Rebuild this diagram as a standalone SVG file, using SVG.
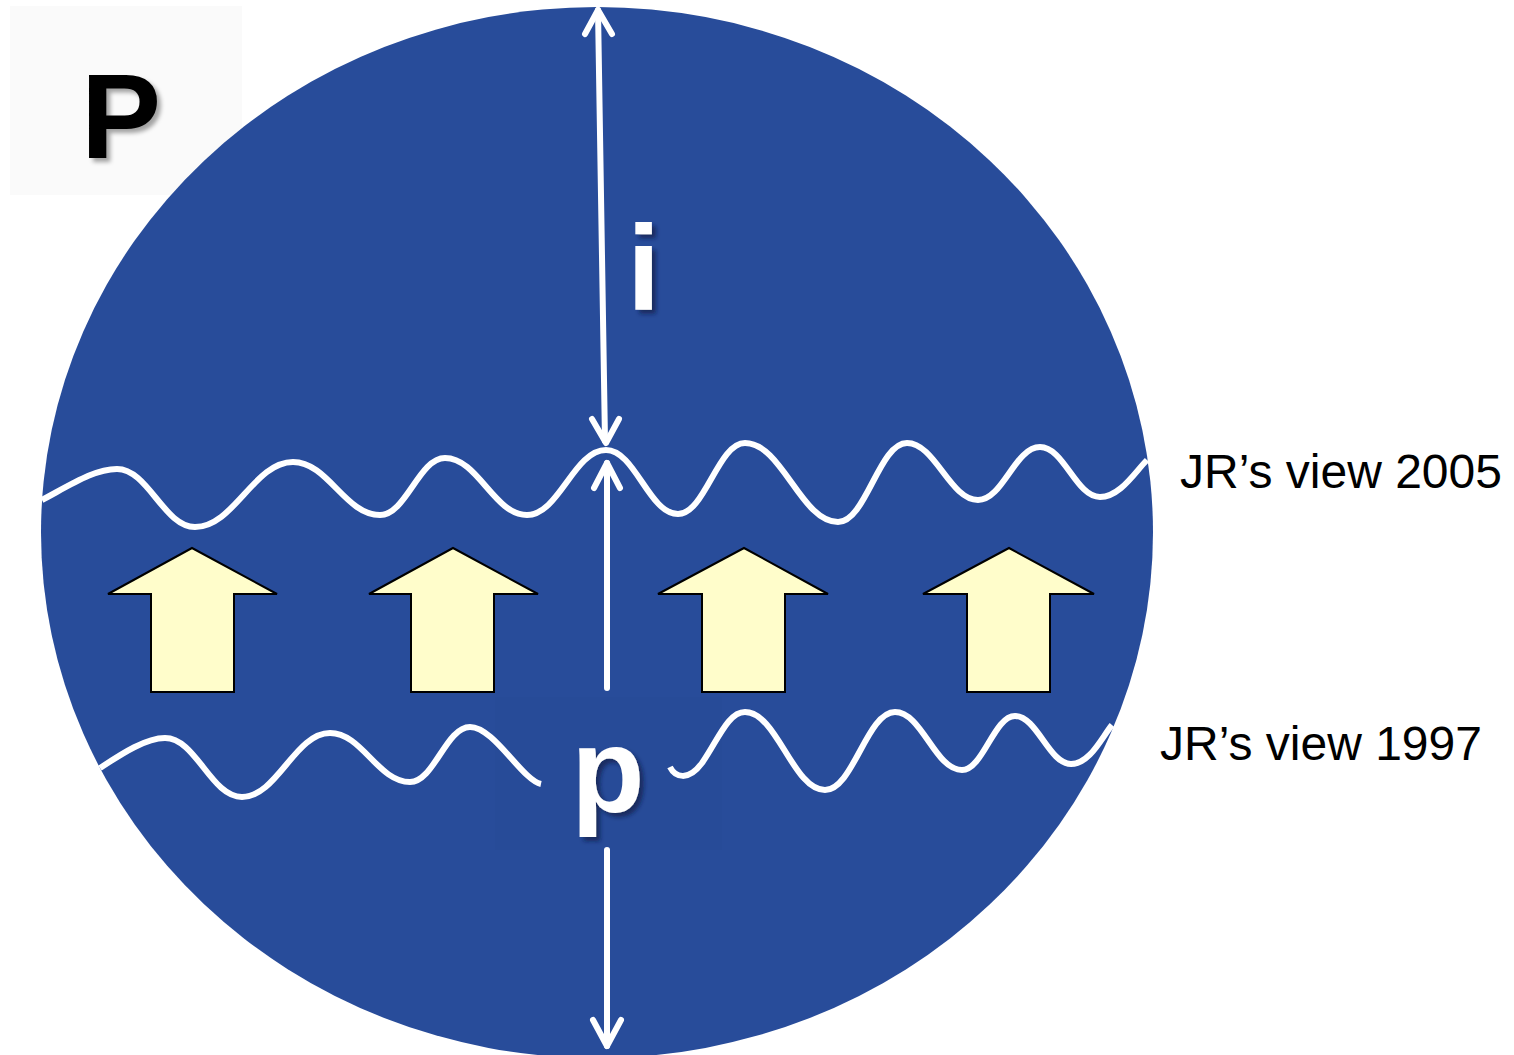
<svg xmlns="http://www.w3.org/2000/svg" width="1514" height="1055" viewBox="0 0 1514 1055">
<style>
.lbl{font-family:"Liberation Sans",Arial,sans-serif;font-weight:bold;font-size:120px}
.side{font-family:"Liberation Sans",Arial,sans-serif;font-size:48px;fill:#000}
.wave{fill:none;stroke:#fff;stroke-width:6;stroke-linecap:butt;stroke-linejoin:round}
.ln{fill:none;stroke:#fff;stroke-width:6;stroke-linecap:round;stroke-linejoin:round}
.blk{fill:#FFFDCB;stroke:#000;stroke-width:2;stroke-linejoin:miter}
</style>
<defs>
<filter id="shP" x="-20%" y="-20%" width="150%" height="150%">
<feDropShadow dx="4" dy="4" stdDeviation="2" flood-color="#000" flood-opacity="0.35"/>
</filter>
<filter id="shW" x="-30%" y="-20%" width="170%" height="150%">
<feDropShadow dx="4" dy="4" stdDeviation="2" flood-color="#0b1c44" flood-opacity="0.7"/>
</filter>
</defs>
<rect width="1514" height="1055" fill="#fff"/>
<g id="title-box">
<rect x="10" y="6" width="232" height="189" fill="#FAFAFA"/>
<text class="lbl" x="81" y="158" fill="#000" filter="url(#shP)">P</text>
</g>
<g id="sphere">
<ellipse cx="597" cy="532.5" rx="556" ry="525.5" fill="#284C9A"/>
<rect x="495" y="697" width="227" height="153" fill="#274B98"/>
</g>
<g id="blocks">
<polygon class="blk" points="192,548 277,594 234,594 234,692 151,692 151,594 108,594"/>
<polygon class="blk" points="453,548 538,594 494,594 494,692 411,692 411,594 369,594"/>
<polygon class="blk" points="744,548 828,594 785,594 785,692 702,692 702,594 658,594"/>
<polygon class="blk" points="1009,548 1094,594 1050,594 1050,692 967,692 967,594 923,594"/>
</g>
<g id="waves">
<path id="wave2005" class="wave" d="M42,500 C72,484 95,469 117,469 C148,469 164,527 195,527 C234,527 254,462 293,462 C328,462 345,515 380,515 C406,515 419,458 445,458 C478,458 494,515 527,515 C559,515 574,450 606,450 C635,450 649,514 678,514 C705,514 718,443 745,443 C782,443 801,522 838,522 C866,522 879,443 907,443 C935,443 950,500 978,500 C1003,500 1015,447 1040,447 C1064,447 1076,497 1100,497 C1120,497 1135,472 1147,460"/>
<path id="wave1997a" class="wave" d="M100,768 C120,755 145,738 165,738 C196,738 211,797 242,797 C277,797 295,733 330,733 C362,733 378,782 410,782 C434,782 446,727 470,727 C494,727 522,780 541,784"/>
<path id="wave1997b" class="wave" d="M670,767 C675,777 688,782 702,763 C718,740 728,712 745,712 C777,712 793,790 825,790 C853,790 867,712 895,712 C922,712 935,770 962,770 C983,770 994,716 1015,716 C1037,716 1049,764 1071,764 C1090,764 1102,737 1112,725"/>
</g>
<g id="connectors">
<path class="ln" d="M598,10 L605,441"/>
<path class="ln" d="M585,34 L598,10 L612,34"/>
<path class="ln" d="M592,419 L606,443 L619,419"/>
<path class="ln" d="M607,688 L607,463"/>
<path class="ln" d="M594,488 L607,463 L620,488"/>
<path class="ln" d="M607,850 L607,1046"/>
<path class="ln" d="M593,1020 L607,1046 L621,1020"/>
</g>
<g id="labels">
<text class="lbl" x="627" y="310" fill="#fff" filter="url(#shW)">i</text>
<text class="lbl" x="608" y="812" fill="#fff" text-anchor="middle" filter="url(#shW)">p</text>
<text class="side" x="1180" y="488">JR’s view 2005</text>
<text class="side" x="1160" y="760">JR’s view 1997</text>
</g>
</svg>
